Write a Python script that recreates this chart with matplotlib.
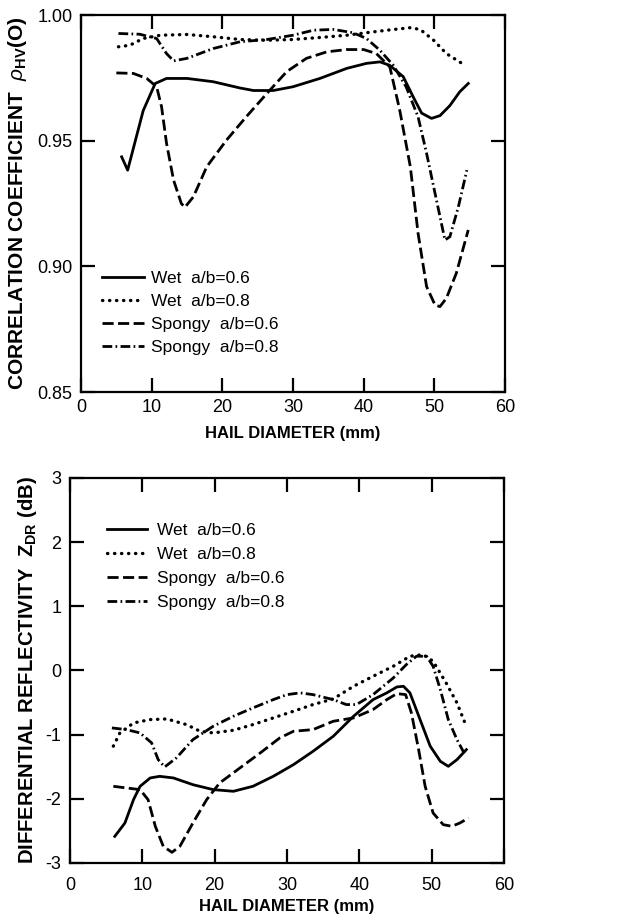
import matplotlib.pyplot as plt

plt.rcParams['font.family'] = ['Liberation Sans', 'DejaVu Sans']
plt.rcParams['mathtext.fontset'] = 'custom'
plt.rcParams['mathtext.rm'] = 'Liberation Sans'
plt.rcParams['mathtext.it'] = 'Liberation Sans:italic'
plt.rcParams['mathtext.bf'] = 'Liberation Sans:bold'

labels = ['Wet  a/b=0.6', 'Wet  a/b=0.8', 'Spongy  a/b=0.6', 'Spongy  a/b=0.8']

# ---- top panel: correlation coefficient rho_hv(0)
rho_wet06_d = [5.75, 6.6, 8.8, 10.5, 12.1, 15, 18.7, 22.5, 24.4, 27.2, 30, 33.8, 37.6, 40.4,
               42.3, 43.7, 45.6, 47, 48.2, 49.6, 50.8, 52.2, 53.6, 54.8]
rho_wet06 = [0.9436, 0.9383, 0.962, 0.9728, 0.9748, 0.9748, 0.9735, 0.971, 0.970, 0.970, 0.9715,
             0.9748, 0.9788, 0.9808, 0.9814, 0.980, 0.9755, 0.9675, 0.961, 0.9589, 0.960, 0.964,
             0.9695, 0.9728]

rho_wet08_d = [5.3, 6.9, 8.8, 11.2, 15, 18.7, 22.5, 26.3, 30, 33.8, 37.6, 40.4, 43.3, 46.6, 48,
               49.9, 51.7, 53.9]
rho_wet08 = [0.9874, 0.988, 0.9907, 0.992, 0.9923, 0.9914, 0.9903, 0.990, 0.9903, 0.9911, 0.992,
             0.993, 0.994, 0.995, 0.9943, 0.990, 0.9847, 0.9808]

rho_sp06_d = [5, 7.4, 9.3, 10.7, 11.4, 12.1, 13.1, 14.2, 14.7, 15.9, 17.8, 20.6, 23.4, 26.3, 29.1,
              31.9, 34.8, 37.6, 40, 41.8, 43.7, 45.1, 46.6, 47.7, 48.9, 50.1, 50.8, 51.7, 53.1, 54.8]
rho_sp06 = [0.977, 0.9768, 0.9748, 0.9715, 0.9635, 0.949, 0.9343, 0.925, 0.9235, 0.9277, 0.9397,
            0.9503, 0.9596, 0.9688, 0.9775, 0.9828, 0.9854, 0.9863, 0.9863, 0.9847, 0.9794,
            0.9622, 0.9397, 0.9131, 0.892, 0.8846, 0.884, 0.8873, 0.8972, 0.9145]

rho_sp08_d = [5.3, 8.3, 10.7, 12.1, 13.1, 15, 18.7, 22.5, 26.3, 30, 32.9, 35.7, 38.5, 40.4, 42.3,
              44.2, 46, 47.7, 48.9, 50.3, 51.5, 52.2, 53.4, 54.6]
rho_sp08 = [0.9927, 0.9924, 0.9907, 0.9847, 0.9818, 0.9828, 0.9867, 0.9894, 0.9903, 0.992, 0.994,
            0.9943, 0.993, 0.9907, 0.986, 0.980, 0.9715, 0.9595, 0.945, 0.9264, 0.9105, 0.9118,
            0.9237, 0.9383]

# ---- bottom panel: differential reflectivity Zdr (dB)
zdr_wet06_d = [6.2, 7.6, 8.8, 9.7, 11.1, 12.4, 14.3, 17, 19.8, 22.6, 25.3, 28.1, 30.9, 33.6, 36.4,
               39.2, 41.9, 43.8, 45.2, 46.1, 47, 48.4, 49.8, 51.2, 52.3, 53.5, 54.8]
zdr_wet06 = [-2.585, -2.377, -2.01, -1.805, -1.675, -1.65, -1.675, -1.78, -1.857, -1.883, -1.805,
             -1.65, -1.468, -1.26, -1.026, -0.714, -0.455, -0.35, -0.257, -0.247, -0.35, -0.766,
             -1.18, -1.416, -1.494, -1.39, -1.234]

zdr_wet08_d = [6, 6.9, 8.8, 11.1, 13.4, 16.1, 18, 19.8, 22.6, 25.3, 28.1, 30.9, 33.6, 36.4, 39.2,
               41.9, 44.7, 47, 48.8, 50.2, 52, 53.5, 54.6]
zdr_wet08 = [-1.18, -0.974, -0.818, -0.766, -0.756, -0.844, -0.948, -0.974, -0.932, -0.844, -0.74,
             -0.636, -0.532, -0.444, -0.247, -0.091, 0.065, 0.221, 0.247, 0.143, -0.195, -0.506,
             -0.818]

zdr_sp06_d = [6, 7.8, 9.7, 10.8, 11.8, 12.9, 14.1, 15.2, 17, 18.9, 20.7, 23.5, 26.3, 29, 30.9,
              33.6, 36.4, 39.2, 41.9, 43.8, 45.2, 46.4, 47.2, 48.2, 49.1, 50.2, 51.6, 52.8, 53.9, 55.1]
zdr_sp06 = [-1.805, -1.831, -1.857, -2.013, -2.428, -2.74, -2.834, -2.74, -2.377, -2.013, -1.753,
            -1.519, -1.286, -1.052, -0.948, -0.922, -0.792, -0.74, -0.61, -0.455, -0.361, -0.377,
            -0.662, -1.234, -1.805, -2.221, -2.403, -2.428, -2.377, -2.299]

zdr_sp08_d = [5.8, 7.8, 9.7, 11.3, 12.2, 13.1, 14.7, 17, 19.8, 22.6, 25.3, 28.1, 30, 31.8, 33.6,
              36.4, 38.2, 39.6, 41.9, 44.7, 46.5, 47.9, 49.3, 50.2, 51.2, 52.3, 53.5, 54.6]
zdr_sp08 = [-0.896, -0.922, -0.974, -1.13, -1.39, -1.504, -1.364, -1.078, -0.87, -0.714, -0.584,
            -0.455, -0.377, -0.35, -0.377, -0.455, -0.532, -0.532, -0.377, -0.117, 0.091, 0.221,
            0.221, 0.065, -0.299, -0.766, -1.078, -1.312]

styles = [dict(linestyle='-', linewidth=2.0),
          dict(linestyle=(0, (0.1, 2.0)), dash_capstyle='round', linewidth=2.4),
          dict(linestyle=(0, (4, 1.6)), linewidth=2.0),
          dict(linestyle=(0, (3.5, 1.2, 0.6, 1.2)), linewidth=2.0)]


def style_axes(ax, tickpad, labelpad):
    for s in ax.spines.values():
        s.set_linewidth(1.6)
    ax.tick_params(direction='in', length=10, width=1.6, top=True, right=True, labelsize=13)
    ax.tick_params(axis='x', pad=tickpad)
    ax.tick_params(axis='y', pad=6)
    ax.set_xlim(0, 60)
    ax.set_xticks([0, 10, 20, 30, 40, 50, 60])
    ax.set_xlabel('HAIL DIAMETER (mm)', fontsize=12, fontweight='bold', labelpad=labelpad)


fig = plt.figure(figsize=(6.3, 9.17), dpi=100)

ax1 = fig.add_axes([0.1286, 0.5725, 0.673, 0.411])
top = [(rho_wet06_d, rho_wet06), (rho_wet08_d, rho_wet08),
       (rho_sp06_d, rho_sp06), (rho_sp08_d, rho_sp08)]
for (d, v), st, lab in zip(top, styles, labels):
    ax1.plot(d, v, color='black', label=lab, **st)
style_axes(ax1, 5, 7)
ax1.set_ylim(0.85, 1.00)
ax1.set_yticks([0.85, 0.90, 0.95, 1.00])
ax1.set_yticklabels(['0.85', '0.90', '0.95', '1.00'])
ax1.set_ylabel(r'CORRELATION COEFFICIENT  $\rho_{\mathbf{HV}}$(O)', fontsize=15,
               fontweight='bold', labelpad=6)
ax1.legend(loc='lower left', bbox_to_anchor=(0.034, 0.08), frameon=False, fontsize=12.5,
           handlelength=2.4, handletextpad=0.4, labelspacing=0.45, borderaxespad=0)

ax2 = fig.add_axes([0.111, 0.0589, 0.689, 0.42])
bottom = [(zdr_wet06_d, zdr_wet06), (zdr_wet08_d, zdr_wet08),
          (zdr_sp06_d, zdr_sp06), (zdr_sp08_d, zdr_sp08)]
for (d, v), st, lab in zip(bottom, styles, labels):
    ax2.plot(d, v, color='black', label=lab, **st)
style_axes(ax2, 10, 4)
ax2.set_ylim(-3, 3)
ax2.set_yticks([-3, -2, -1, 0, 1, 2, 3])
ax2.set_yticklabels(['-3', '-2', '-1', '0', '1', '2', '3'])
ax2.set_ylabel(r'DIFFERENTIAL REFLECTIVITY  Z$_{\mathbf{DR}}$ (dB)', fontsize=14.6,
               fontweight='bold', labelpad=5)
ax2.legend(loc='upper left', bbox_to_anchor=(0.0685, 0.9), frameon=False, fontsize=12.5,
           handlelength=2.3, handletextpad=0.6, labelspacing=0.5, borderaxespad=0)

fig.savefig('out.png', dpi=100)
